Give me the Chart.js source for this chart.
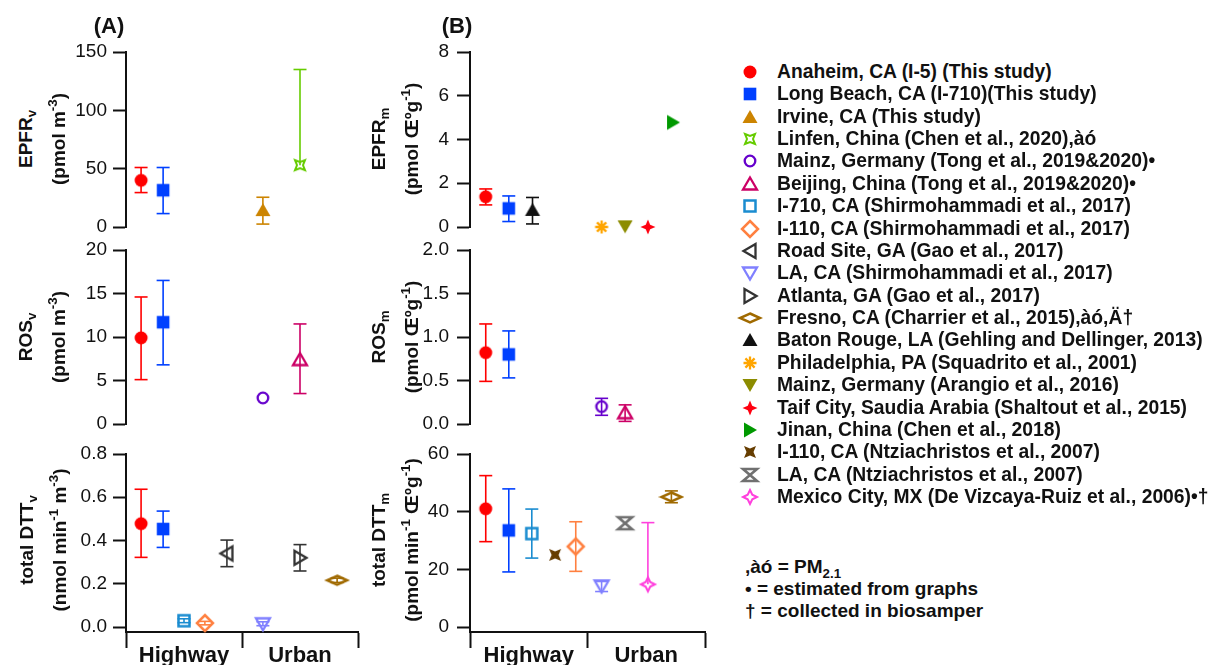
<!DOCTYPE html>
<html>
<head>
<meta charset="utf-8">
<script src="https://cdn.jsdelivr.net/npm/chart.js@4.4.0/dist/chart.umd.min.js"></script>
<style>
body { margin: 0; background: #fff; width: 1212px; height: 665px; overflow: hidden; position: relative;
       font-family: "Liberation Sans", Arial, sans-serif; color: #111; }
canvas { position: absolute; }
.vt { position: absolute; font-weight: bold; font-size: 19px; line-height: 1; white-space: nowrap;
      transform: translate(-50%, -50%) rotate(-90deg); }
.vt sup, .vt sub, .note sub { font-size: 0.7em; line-height: 0; }
.lbl { position: absolute; font-weight: bold; font-size: 22px; line-height: 1; transform: translate(-50%, -50%); }
.leg { position: absolute; font-weight: bold; font-size: 19.3px; line-height: 22px; white-space: nowrap; }
.note { position: absolute; font-weight: bold; font-size: 19px; line-height: 22px; white-space: nowrap; }
</style>
</head>
<body>
<canvas id="a1" width="306" height="215" style="left:66px;top:32px"></canvas>
<canvas id="a2" width="306" height="214" style="left:66px;top:230px"></canvas>
<canvas id="a3" width="306" height="231" style="left:66px;top:434px"></canvas>
<canvas id="b1" width="304" height="215" style="left:415px;top:32px"></canvas>
<canvas id="b2" width="304" height="214" style="left:415px;top:230px"></canvas>
<canvas id="b3" width="304" height="231" style="left:415px;top:434px"></canvas>

<div class="lbl" style="left:109px;top:26px">(A)</div>
<div class="lbl" style="left:457px;top:26px">(B)</div>

<div class="vt" style="left:25px;top:139px">EPFR<sub>v</sub></div>
<div class="vt" style="left:58px;top:139px">(pmol m<sup>-3</sup>)</div>
<div class="vt" style="left:25px;top:337px">ROS<sub>v</sub></div>
<div class="vt" style="left:58px;top:337px">(pmol m<sup>-3</sup>)</div>
<div class="vt" style="left:26px;top:540px">total DTT<sub>v</sub></div>
<div class="vt" style="left:59px;top:540px">(nmol min<sup>-1</sup> m<sup>-3</sup>)</div>

<div class="vt" style="left:378px;top:139px">EPFR<sub>m</sub></div>
<div class="vt" style="left:411px;top:139px">(pmol Œºg<sup>-1</sup>)</div>
<div class="vt" style="left:378px;top:337px">ROS<sub>m</sub></div>
<div class="vt" style="left:411px;top:337px">(pmol Œºg<sup>-1</sup>)</div>
<div class="vt" style="left:378px;top:540px">total DTT<sub>m</sub></div>
<div class="vt" style="left:411px;top:540px">(pmol min<sup>-1</sup> Œºg<sup>-1</sup>)</div>

<div id="legend"></div>
<div class="note" style="left:745px;top:556px">,àó = PM<sub>2.1</sub></div>
<div class="note" style="left:745px;top:578px">• = estimated from graphs</div>
<div class="note" style="left:745px;top:600px">† = collected in biosamper</div>

<script>
// studies in legend order
const studyNames = [
    "Anaheim, CA (I-5) (This study)",
    "Long Beach, CA (I-710)(This study)",
    "Irvine, CA (This study)",
    "Linfen, China (Chen et al., 2020),àó",
    "Mainz, Germany (Tong et al., 2019&2020)•",
    "Beijing, China (Tong et al., 2019&2020)•",
    "I-710, CA (Shirmohammadi et al., 2017)",
    "I-110, CA (Shirmohammadi et al., 2017)",
    "Road Site, GA (Gao et al., 2017)",
    "LA, CA (Shirmohammadi et al., 2017)",
    "Atlanta, GA (Gao et al., 2017)",
    "Fresno, CA (Charrier et al., 2015),àó,Ä†",
    "Baton Rouge, LA (Gehling and Dellinger, 2013)",
    "Philadelphia, PA (Squadrito et al., 2001)",
    "Mainz, Germany (Arangio et al., 2016)",
    "Taif City, Saudia Arabia (Shaltout et al., 2015)",
    "Jinan, China (Chen et al., 2018)",
    "I-110, CA (Ntziachristos et al., 2007)",
    "LA, CA (Ntziachristos et al., 2007)",
    "Mexico City, MX (De Vizcaya-Ruiz et al., 2006)•†"
];

// categories on the bottom axis, x runs 0..100 along it
const groups = ["Highway", "Urban"];
const groupEdges = [0, 50, 100];

// (A) EPFR per volume
const epfrvStudy = [0, 1, 2, 3];
const epfrvX = [6.5, 16, 59, 75];
const epfrvY = [40, 31.5, 14.5, 53];
const epfrvLo = [29.5, 11.5, 2.5, 53];
const epfrvHi = [51, 51, 25.5, 135];
const epfrvTicks = ["0", "50", "100", "150"];

// (A) ROS per volume
const rosvStudy = [0, 1, 4, 5];
const rosvX = [6.5, 16, 59, 75];
const rosvY = [9.9, 11.7, 3.0, 7.4];
const rosvLo = [5.1, 6.8, null, 3.5];
const rosvHi = [14.6, 16.5, null, 11.5];
const rosvTicks = ["0", "5", "10", "15", "20"];

// (A) total DTT per volume
const dttvStudy = [0, 1, 6, 7, 8, 9, 10, 11];
const dttvX = [6.5, 16, 25, 34, 43.5, 59, 75, 91];
const dttvY = [0.478, 0.453, 0.029, 0.018, 0.34, 0.015, 0.32, 0.216];
const dttvLo = [0.322, 0.368, 0.02, 0.01, 0.279, 0.006, 0.259, 0.206];
const dttvHi = [0.637, 0.536, 0.038, 0.026, 0.402, 0.024, 0.381, 0.226];
const dttvTicks = ["0.0", "0.2", "0.4", "0.6", "0.8"];

// (B) EPFR per mass
const epfrmStudy = [0, 1, 12, 13, 14, 15, 16];
const epfrmX = [6.7, 16.5, 26.6, 56, 66, 75.7, 86.4];
const epfrmY = [1.38, 0.85, 0.78, 0.0, 0.03, 0.0, 4.78];
const epfrmLo = [1.01, 0.25, 0.14, null, null, null, null];
const epfrmHi = [1.74, 1.42, 1.35, null, null, null, null];
const epfrmTicks = ["0", "2", "4", "6", "8"];

// (B) ROS per mass
const rosmStudy = [0, 1, 4, 5];
const rosmX = [6.7, 16.5, 56, 66];
const rosmY = [0.82, 0.80, 0.2, 0.13];
const rosmLo = [0.49, 0.53, 0.1, 0.03];
const rosmHi = [1.15, 1.07, 0.295, 0.22];
const rosmTicks = ["0.0", "0.5", "1.0", "1.5", "2.0"];

// (B) total DTT per mass
const dttmStudy = [0, 1, 6, 17, 7, 9, 18, 19, 11];
const dttmX = [6.7, 16.5, 26.3, 36.2, 45, 56, 66, 75.7, 85.7];
const dttmY = [41, 33.5, 32.4, 25, 27.9, 14.2, 36, 14.8, 45.1];
const dttmLo = [29.6, 19.1, 23.9, null, 19.3, 12.3, null, 14.8, 43.1];
const dttmHi = [52.5, 47.9, 40.9, null, 36.5, 15.8, null, 36.2, 47.2];
const dttmTicks = ["0", "20", "40", "60"];

// marker look for each study
const studyColors = ["#ff0000", "#0040ff", "#cc8400", "#66cc00", "#6600cc", "#cc0066", "#1a8cd0",
    "#ff8040", "#333333", "#8080ff", "#333333", "#a06a00", "#111111", "#ffa500", "#8c8c00",
    "#ff0010", "#009900", "#663d00", "#707070", "#ff40dd"];
const studyShapes = ["circle", "square", "tri", "concaveO", "circleO", "triO", "squareO", "diamondO",
    "leftTriO", "downTriO", "rightTriO", "flatDiamondO", "tri", "asterisk", "downTri", "star4",
    "rightTri", "concave", "hourglass", "star4O"];

Chart.defaults.font.family = '"Liberation Sans", Arial, sans-serif';
Chart.defaults.color = "#111";

function markerCanvas(shape, color) {
    const c = document.createElement("canvas");
    c.width = 26;
    c.height = 26;
    const ctx = c.getContext("2d");
    ctx.translate(13, 13);
    ctx.fillStyle = color;
    ctx.strokeStyle = color;
    ctx.lineWidth = 2.3;
    const poly = (pts, fill) => {
        ctx.beginPath();
        pts.forEach((p, i) => i ? ctx.lineTo(p[0], p[1]) : ctx.moveTo(p[0], p[1]));
        ctx.closePath();
        fill ? ctx.fill() : ctx.stroke();
    };
    const star = (o, n) => [[0, -o], [n, -n], [o, 0], [n, n], [0, o], [-n, n], [-o, 0], [-n, -n]];
    switch (shape) {
        case "circle": ctx.beginPath(); ctx.arc(0, 0, 6.5, 0, Math.PI * 2); ctx.fill(); break;
        case "circleO": ctx.beginPath(); ctx.arc(0, 0, 5.3, 0, Math.PI * 2); ctx.stroke(); break;
        case "square": ctx.fillRect(-6.3, -6.3, 12.6, 12.6); break;
        case "squareO": ctx.lineWidth = 2.5; ctx.strokeRect(-5.5, -5.5, 11, 11); break;
        case "tri": poly([[0, -7], [7.5, 6], [-7.5, 6]], true); break;
        case "triO": poly([[0, -6.5], [7, 5.5], [-7, 5.5]], false); break;
        case "downTri": poly([[-7.5, -6], [7.5, -6], [0, 7]], true); break;
        case "downTriO": poly([[-7, -5.5], [7, -5.5], [0, 6.5]], false); break;
        case "leftTriO": poly([[-6.5, 0], [5.5, -7], [5.5, 7]], false); break;
        case "rightTriO": poly([[6.5, 0], [-5.5, -7], [-5.5, 7]], false); break;
        case "rightTri": poly([[7, 0], [-6, -7.5], [-6, 7.5]], true); break;
        case "diamondO": ctx.lineWidth = 2.5; poly([[0, -8], [8, 0], [0, 8], [-8, 0]], false); break;
        case "flatDiamondO": ctx.lineWidth = 2.5; poly([[0, -4.5], [10, 0], [0, 4.5], [-10, 0]], false); break;
        case "concaveO": ctx.lineWidth = 2; poly([[-5, -5], [0, -3], [5, -5], [3, 0], [5, 5], [0, 3], [-5, 5], [-3, 0]], false); break;
        case "concave": poly([[-6, -6], [0, -3.5], [6, -6], [3.5, 0], [6, 6], [0, 3.5], [-6, 6], [-3.5, 0]], true); break;
        case "star4": poly(star(7.5, 2.2), true); break;
        case "star4O": ctx.lineWidth = 2; poly(star(7, 2.3), false); break;
        case "hourglass": ctx.lineWidth = 2.6; poly([[-7, -6], [7, -6], [-7, 6], [7, 6]], false); break;
        case "asterisk":
            ctx.beginPath();
            for (let k = 0; k < 4; k++) {
                const a = k * Math.PI / 4;
                ctx.moveTo(-6.5 * Math.cos(a), -6.5 * Math.sin(a));
                ctx.lineTo(6.5 * Math.cos(a), 6.5 * Math.sin(a));
            }
            ctx.stroke();
            break;
    }
    return c;
}

const markers = studyShapes.map((s, i) => markerCanvas(s, studyColors[i]));

function makePanel(id, study, xs, ys, lo, hi, tickLabels, yAxisW, labelPad, isBottom) {
    const yMax = parseFloat(tickLabels[tickLabels.length - 1]);
    // bottom panels leave a small gap between 0 and the category axis
    const yMin = isBottom ? -yMax * 5 / 173 : 0;

    const datasets = [];
    study.forEach((s, i) => {
        const col = studyColors[s];
        datasets.push({
            data: [{ x: xs[i], y: ys[i] }],
            pointStyle: markers[s],
            pointRadius: 7,
            order: 0,
            clip: false
        });
        if (lo[i] != null) {
            datasets.push({
                data: [{ x: xs[i], y: lo[i] }, { x: xs[i], y: hi[i] }],
                showLine: true,
                borderColor: col,
                borderWidth: 1.6,
                pointStyle: "line",
                pointRadius: [lo[i] < ys[i] ? 6.5 : 0, hi[i] > ys[i] ? 6.5 : 0],
                pointBorderColor: col,
                pointBorderWidth: 1.6,
                order: 1,
                clip: false
            });
        }
    });

    // category axis ticks: edges get a tick mark, midpoints get the label
    const xTickVals = [];
    const xTickText = [];
    groups.forEach((g, i) => {
        xTickVals.push(groupEdges[i], (groupEdges[i] + groupEdges[i + 1]) / 2);
        xTickText.push("", g);
    });
    xTickVals.push(groupEdges[groupEdges.length - 1]);
    xTickText.push("");

    const xScale = {
        type: "linear",
        min: 0,
        max: 100,
        display: isBottom,
        afterBuildTicks: sc => { sc.ticks = xTickVals.map(v => ({ value: v })); },
        ticks: {
            callback: (v, i) => xTickText[i],
            autoSkip: false,
            maxRotation: 0,
            padding: -5,
            color: "#111",
            font: { size: 22, weight: "bold" }
        },
        grid: {
            drawOnChartArea: false,
            tickLength: 16,
            tickWidth: 2,
            tickColor: ctx => groupEdges.includes(ctx.tick.value) ? "#111" : "rgba(0,0,0,0)"
        },
        border: { color: "#111", width: 2 }
    };
    if (isBottom) xScale.afterFit = sc => { sc.height = 33; };

    new Chart(document.getElementById(id), {
        type: "scatter",
        data: { datasets: datasets },
        options: {
            responsive: false,
            animation: false,
            events: [],
            // 20px top/bottom is more than the half tick label + padding chart.js wants
            layout: { padding: { left: 0, right: 14, top: 20, bottom: isBottom ? 0 : 20 } },
            plugins: { legend: { display: false }, tooltip: { enabled: false } },
            scales: {
                x: xScale,
                y: {
                    min: yMin,
                    max: yMax,
                    afterBuildTicks: sc => { sc.ticks = tickLabels.map(t => ({ value: parseFloat(t) })); },
                    afterFit: sc => { sc.width = yAxisW; },
                    ticks: {
                        callback: (v, i) => tickLabels[i],
                        padding: labelPad,
                        color: "#111",
                        font: { size: 19 }
                    },
                    grid: { drawOnChartArea: false, tickLength: 13, tickWidth: 2, tickColor: "#111" },
                    border: { color: "#111", width: 2 }
                }
            }
        }
    });
}

makePanel("a1", epfrvStudy, epfrvX, epfrvY, epfrvLo, epfrvHi, epfrvTicks, 60, 6, false);
makePanel("a2", rosvStudy, rosvX, rosvY, rosvLo, rosvHi, rosvTicks, 60, 6, false);
makePanel("a3", dttvStudy, dttvX, dttvY, dttvLo, dttvHi, dttvTicks, 60, 6, true);
makePanel("b1", epfrmStudy, epfrmX, epfrmY, epfrmLo, epfrmHi, epfrmTicks, 55, 8, false);
makePanel("b2", rosmStudy, rosmX, rosmY, rosmLo, rosmHi, rosmTicks, 55, 8, false);
makePanel("b3", dttmStudy, dttmX, dttmY, dttmLo, dttmHi, dttmTicks, 55, 8, true);

// legend: symbol + study name, one row per study
const legend = document.getElementById("legend");
studyNames.forEach((name, i) => {
    const yc = 72 + 22.37 * i;
    const sym = markers[i].cloneNode();
    sym.getContext("2d").drawImage(markers[i], 0, 0);
    sym.style.left = "737px";
    sym.style.top = (yc - 13) + "px";
    legend.appendChild(sym);
    const t = document.createElement("div");
    t.className = "leg";
    t.style.left = "777px";
    t.style.top = (yc - 11) + "px";
    t.textContent = name;
    legend.appendChild(t);
});
</script>
</body>
</html>
